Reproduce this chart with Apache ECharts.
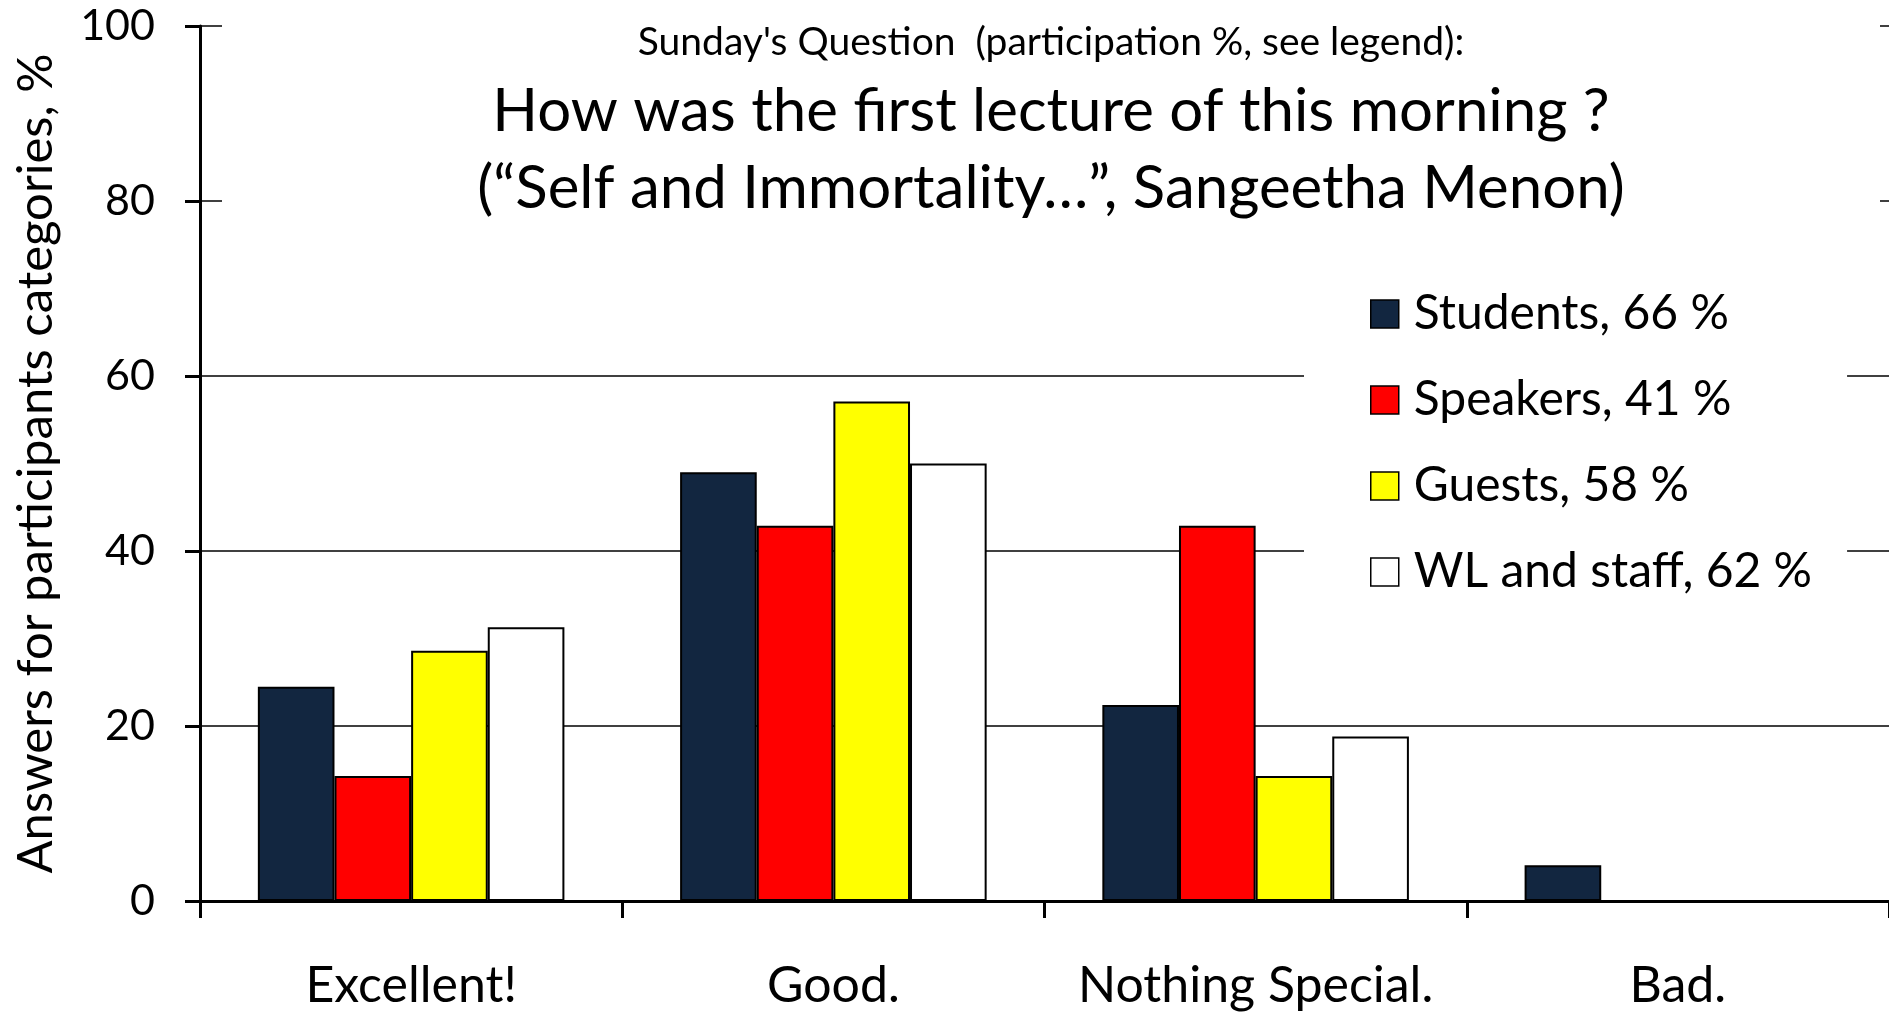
<!DOCTYPE html>
<html>
<head>
<meta charset="utf-8">
<script src="https://cdn.jsdelivr.net/npm/echarts@6/dist/echarts.min.js"></script>
<style>
  html, body { margin: 0; padding: 0; background: #fff; }
  #main { width: 1889px; height: 1013px; }
</style>
</head>
<body>
<div id="main"></div>
<script>
// answer categories (x axis)
var categories = ['Excellent!', 'Good.', 'Nothing Special.', 'Bad.'];
// participant groups, legend text
var groupNames = ['Students, 66 %', 'Speakers, 41 %', 'Guests, 58 %', 'WL and staff, 62 %'];
var groupColors = ['#122640', '#ff0000', '#ffff00', '#ffffff'];
// answers per group, %
var students = [24.5, 49.0, 22.4, 4.1];
var speakers = [14.3, 42.9, 42.9, 0];
var guests = [28.6, 57.1, 14.3, 0];
var staff = [31.3, 50.0, 18.8, 0];
var yTicks = [0, 20, 40, 60, 80, 100];

var FONT = 'Lato';
var chart = echarts.init(document.getElementById('main'));

var seriesData = [students, speakers, guests, staff];
var series = [];
for (var i = 0; i < seriesData.length; i++) {
    series.push({
        name: groupNames[i],
        type: 'bar',
        data: seriesData[i],
        barGap: '0%',
        barCategoryGap: '27.4%',
        itemStyle: { color: groupColors[i], borderColor: '#000', borderWidth: 2 },
        emphasis: { disabled: true }
    });
}

var option = {
    backgroundColor: '#fff',
    animation: false,
    title: {
        text: '{a|Sunday\'s Question  (participation %, see legend):}\n' +
              '{b|How was the first lecture of this morning ?}\n' +
              '{b|(\u201cSelf and Immortality\u2026\u201d, Sangeetha Menon)}',
        left: 222,
        top: 0,
        padding: [11, 0, 10, 0],
        backgroundColor: '#fff',
        textStyle: {
            fontWeight: 'normal',
            rich: {
                a: { fontFamily: FONT, fontSize: 39, fontWeight: 'normal', lineHeight: 62, color: '#000', width: 1658, align: 'center' },
                b: { fontFamily: FONT, fontSize: 60, fontWeight: 'normal', lineHeight: 77, color: '#000', width: 1658, align: 'center' }
            }
        }
    },
    legend: {
        orient: 'vertical',
        left: 1304,
        top: 250,
        padding: [40, 35, 40, 66],
        backgroundColor: '#fff',
        icon: 'rect',
        itemWidth: 28,
        itemHeight: 28,
        itemGap: 38,
        itemStyle: { borderColor: '#000', borderWidth: 1.5 },
        textStyle: { fontFamily: FONT, fontSize: 48, lineHeight: 46, color: '#000', padding: [0, 0, 0, 10] },
        data: groupNames
    },
    grid: { left: 200, top: 26, width: 1696, bottom: 112, containLabel: false },
    xAxis: {
        type: 'category',
        data: categories,
        axisLine: { lineStyle: { color: '#000', width: 3 } },
        axisTick: { show: true, interval: 0, length: 17, lineStyle: { color: '#000', width: 3 } },
        axisLabel: { interval: 0, fontFamily: FONT, fontSize: 50, color: '#000', margin: 60 }
    },
    yAxis: {
        type: 'value',
        min: yTicks[0],
        max: yTicks[yTicks.length - 1],
        interval: yTicks[1] - yTicks[0],
        name: 'Answers for participants categories, %',
        nameLocation: 'middle',
        nameRotate: 90,
        nameGap: 139,
        nameTextStyle: { fontFamily: FONT, fontSize: 49, color: '#000' },
        axisLine: { show: true, lineStyle: { color: '#000', width: 3 } },
        axisTick: { show: true, length: 15, lineStyle: { color: '#000', width: 3 } },
        axisLabel: { fontFamily: FONT, fontSize: 43, color: '#000', margin: 45 },
        splitLine: { show: true, lineStyle: { color: '#000', width: 1.5 } }
    },
    series: series
};
chart.setOption(option);
</script>
</body>
</html>
